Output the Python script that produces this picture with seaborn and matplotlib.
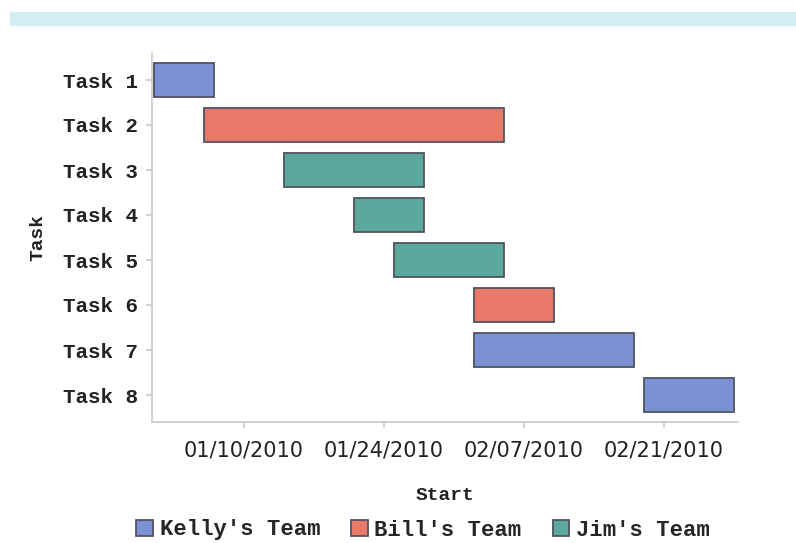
import pandas as pd
import matplotlib
matplotlib.use("Agg")
import matplotlib.pyplot as plt
import matplotlib.dates as mdates
from matplotlib.patches import Rectangle
import seaborn as sns

tasks = ["Task 1", "Task 2", "Task 3", "Task 4", "Task 5", "Task 6", "Task 7", "Task 8"]
teams = ["Kelly's Team", "Bill's Team", "Jim's Team", "Jim's Team",
         "Jim's Team", "Bill's Team", "Kelly's Team", "Kelly's Team"]
starts = ["2010-01-01", "2010-01-06", "2010-01-14", "2010-01-21",
          "2010-01-25", "2010-02-02", "2010-02-02", "2010-02-19"]
ends = ["2010-01-07", "2010-02-05", "2010-01-28", "2010-01-28",
        "2010-02-05", "2010-02-10", "2010-02-18", "2010-02-28"]
tick_dates = ["2010-01-10", "2010-01-24", "2010-02-07", "2010-02-21"]

team_order = ["Kelly's Team", "Bill's Team", "Jim's Team"]
team_colors = {"Kelly's Team": "#7a91d3", "Bill's Team": "#ea7869", "Jim's Team": "#5ca89c"}

df = pd.DataFrame({"task": tasks, "team": teams,
                   "start": pd.to_datetime(starts), "end": pd.to_datetime(ends)})
df["start_num"] = mdates.date2num(df["start"])
df["days"] = (df["end"] - df["start"]).dt.days

sns.set_theme(style="white")
mono = ["Liberation Mono", "DejaVu Sans Mono"]

fig = plt.figure(figsize=(7.96, 5.43), dpi=100)
# faded header band at the top
fig.patches.append(Rectangle((10 / 796, 1 - 25 / 543), 786 / 796, 13 / 543,
                             transform=fig.transFigure, color="#d3eef3", zorder=0))
ax = fig.add_axes([152 / 796, 1 - 422 / 543, 586 / 796, 369 / 543])

sns.barplot(data=df, x="days", y="task", hue="team", hue_order=team_order,
            palette=team_colors, order=tasks, dodge=False, orient="h", saturation=1,
            width=0.77, edgecolor="#4f5363", linewidth=1.3, ax=ax)

# shift each bar to its start date
start_by_task = dict(zip(df["task"], df["start_num"]))
for bar in ax.patches:
    yc = bar.get_y() + bar.get_height() / 2
    idx = int(round(yc))
    if 0 <= idx < len(tasks) and bar.get_width() > 0:
        bar.set_x(start_by_task[tasks[idx]])

ax.xaxis_date()
ax.set_xlim(mdates.date2num(pd.Timestamp("2010-01-01")) - 0.2,
            mdates.date2num(pd.Timestamp("2010-02-28")) + 0.4)
ax.set_ylim(7.6, -0.6)
ax.set_xticks(mdates.date2num(pd.to_datetime(tick_dates)))
ax.xaxis.set_major_formatter(mdates.DateFormatter("%m/%d/%Y"))

for s in ["top", "right"]:
    ax.spines[s].set_visible(False)
for s in ["left", "bottom"]:
    ax.spines[s].set_color("#c8c8c8")
    ax.spines[s].set_linewidth(1.2)
ax.tick_params(axis="both", which="major", length=4, color="#c8c8c8", width=1.2,
               bottom=True, left=True)
ax.tick_params(axis="x", pad=9, labelsize=15, labelcolor="#222222")
ax.tick_params(axis="y", pad=6, labelcolor="#222222")
for lab in ax.get_yticklabels():
    lab.set_family(mono)
    lab.set_fontsize(15)
    lab.set_fontweight("bold")

ax.set_xlabel("Start", family=mono, fontsize=14, fontweight="bold", color="#222222")
ax.set_ylabel("Task", family=mono, fontsize=14, fontweight="bold", color="#222222")
ax.xaxis.set_label_coords(0.5, -0.175)
ax.yaxis.set_label_coords(-0.18, 0.5)

sns.move_legend(ax, "center", bbox_to_anchor=(423 / 796, 1 - 530 / 543),
                bbox_transform=fig.transFigure, ncol=3, frameon=False, title=None,
                handlelength=0.75, handleheight=0.75, handletextpad=0.3,
                columnspacing=1.4, prop={"family": mono, "size": 16, "weight": "bold"})

fig.savefig("out.png", dpi=100)
